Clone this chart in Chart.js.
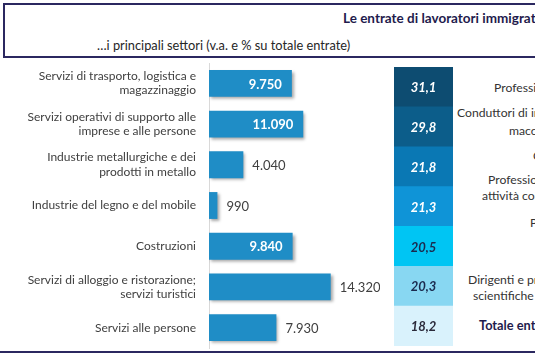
<!DOCTYPE html>
<html><head><meta charset="utf-8">
<script src="https://cdn.jsdelivr.net/npm/chart.js@4.4.1/dist/chart.umd.min.js"></script>
<style>
html,body{margin:0;padding:0;width:535px;height:356px;overflow:hidden;background:#fff;font-family:Lato,'Open Sans',sans-serif;}
.t{position:absolute;white-space:nowrap;}
#box{position:absolute;left:3px;top:3px;width:580px;height:51px;border:2px solid #2b2860;}
#title{left:343px;top:9px;font-weight:bold;font-size:13.5px;color:#1f1b4d;line-height:18px}
#subtitle{left:97px;top:36px;font-size:12.8px;color:#262626;line-height:18px}
#bottomline{position:absolute;left:0;top:351px;width:535px;height:2px;background:#2b2860;}
.rl{font-size:12.2px;color:#333;line-height:16px}
.rl.b{font-weight:bold;color:#1f1b4d;font-size:12.8px}
canvas{position:absolute}
</style></head>
<body>
<div id="box"></div>
<div class="t" id="title">Le entrate di lavoratori immigrati</div>
<div class="t" id="subtitle">…i principali settori (v.a. e % su totale entrate)</div>
<div id="bottomline"></div>
<canvas id="c1" width="380" height="356" style="left:0;top:0"></canvas>
<canvas id="c2" width="59" height="279" style="left:394px;top:67px"></canvas>
<div id="rightLabels"></div>
<script>
// ---- data ----
const sectors = [
  ["Servizi di trasporto, logistica e", "magazzinaggio"],
  ["Servizi operativi di supporto alle", "imprese e alle persone"],
  ["Industrie metallurgiche e dei", "prodotti in metallo"],
  "Industrie del legno e del mobile",
  "Costruzioni",
  ["Servizi di alloggio e ristorazione;", "servizi turistici"],
  "Servizi alle persone"
];
const entries = [9750, 11090, 4040, 990, 9840, 14320, 7930];
const shares = [31.1, 29.8, 21.8, 21.3, 20.5, 20.3, 18.2];
const professions = [
  "Professioni non qualificate",
  "Conduttori di impianti e operai di",
  "macchinari fissi e mobili",
  "Operai specializzati",
  "Professioni qualificate nelle",
  "attività commerciali e nei servizi",
  "Professioni tecniche",
  "Dirigenti e professioni intellettuali,",
  "scientifiche e di elevata specializzazione",
  "Totale entrate"
];

// ---- layout/styling (not data) ----
const profPos = [[494,88],[457,113],[509,131],[533,156],[488,180],[482,196],[530,223],[468,280],[473,296],[479,325]];
const rl = document.getElementById('rightLabels');
professions.forEach((p,i)=>{
  const d=document.createElement('div');
  d.className='t rl'+(i===professions.length-1?' b':'');
  d.style.left=profPos[i][0]+'px'; d.style.top=(profPos[i][1]-8)+'px';
  d.textContent=p; rl.appendChild(d);
});

const fmtNum = v => String(v).replace(/\B(?=(\d{3})+(?!\d))/g,'.');
const fmtPct = v => v.toFixed(1).replace('.',',');

const shadowPlugin = {
  id:'shadow',
  beforeDatasetsDraw(c){const x=c.ctx;x.save();x.shadowColor='rgba(0,0,0,0.35)';x.shadowBlur=3;x.shadowOffsetX=2;x.shadowOffsetY=2;},
  afterDatasetsDraw(c){c.ctx.restore();}
};
const insideLabel=[true,true,false,false,true,false,false];
const valuePlugin = {
  id:'vals',
  afterDatasetsDraw(c){
    const ctx=c.ctx; const meta=c.getDatasetMeta(0);
    ctx.save(); ctx.textBaseline='middle';
    meta.data.forEach((bar,i)=>{
      const txt=fmtNum(c.data.datasets[0].data[i]);
      if(insideLabel[i]){
        ctx.font='bold 13px Lato'; ctx.fillStyle='#ffffff'; ctx.textAlign='right';
        ctx.fillText(txt, bar.x-10, bar.y+1);
      } else {
        ctx.font='13px Lato'; ctx.fillStyle='#404040'; ctx.textAlign='left';
        ctx.fillText(txt, bar.x+9, bar.y+1);
      }
    });
    ctx.restore();
  }
};

new Chart(document.getElementById('c1'), {
  type:'bar',
  data:{labels:sectors, datasets:[{data:entries, backgroundColor:'#1f8dc6', barPercentage:0.66, categoryPercentage:1, borderWidth:0}]},
  options:{
    indexAxis:'y', responsive:false, animation:false, devicePixelRatio:1,
    layout:{padding:{top:63,bottom:8,left:0,right:1}},
    plugins:{legend:{display:false}, tooltip:{enabled:false}},
    scales:{
      x:{display:false, min:0, max:20000},
      y:{grid:{display:false, drawTicks:false}, border:{display:true, color:'#d9d9d9', width:1},
         ticks:{padding:13, color:'#404040', font:{family:'Lato', size:12}},
         afterFit(s){s.width=209; s.paddingTop=0; s.paddingBottom=0;}}
    }
  },
  plugins:[shadowPlugin, valuePlugin]
});

const cellColors=['#0d4c71','#0c5d8a','#0a78b4','#0f94d7','#00c5f3','#88d7f2','#d9f2fc'];
const cellText=['#ffffff','#ffffff','#ffffff','#ffffff','#1b2a4e','#1b2a4e','#2a2a3a'];
const cellPlugin = {
  id:'cellLabels',
  afterDatasetsDraw(c){
    const ctx=c.ctx; const meta=c.getDatasetMeta(0);
    ctx.save(); ctx.textAlign='center'; ctx.textBaseline='middle';
    meta.data.forEach((bar,i)=>{
      ctx.font='italic bold 13px Lato'; ctx.fillStyle=cellText[i];
      ctx.fillText(c.data.labels[i], (c.chartArea.left+c.chartArea.right)/2, bar.y+1);
    });
    ctx.restore();
  }
};
new Chart(document.getElementById('c2'), {
  type:'bar',
  data:{labels:shares.map(fmtPct), datasets:[{data:shares.map(()=>[0,1]), backgroundColor:cellColors, barPercentage:1, categoryPercentage:1, borderWidth:0, borderSkipped:false}]},
  options:{
    indexAxis:'y', responsive:false, animation:false, devicePixelRatio:1,
    layout:{padding:0},
    plugins:{legend:{display:false}, tooltip:{enabled:false}},
    scales:{x:{display:false,min:0,max:1}, y:{display:false}}
  },
  plugins:[cellPlugin]
});
</script>
</body></html>
